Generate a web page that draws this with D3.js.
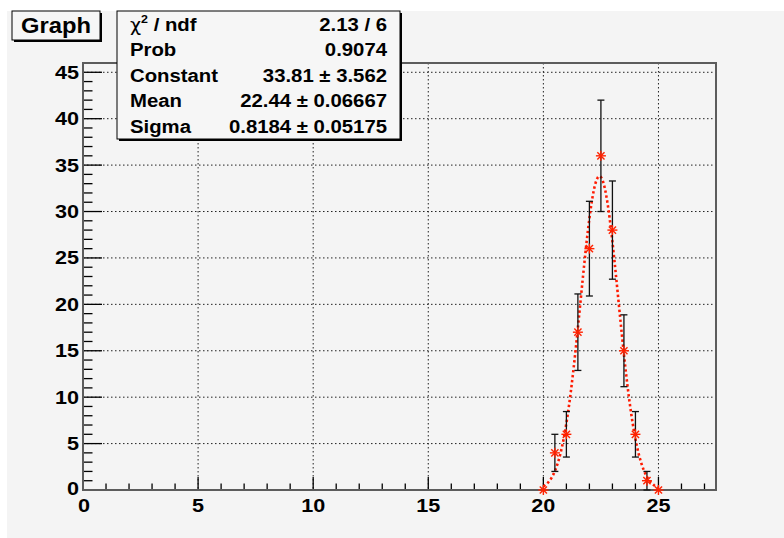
<!DOCTYPE html>
<html><head><meta charset="utf-8">
<script src="https://cdn.jsdelivr.net/npm/d3@7"></script>
<style>
html,body{margin:0;padding:0;background:#fff;}
svg{display:block;}
text{font-family:"Liberation Sans",Arial,Helvetica,sans-serif;font-weight:bold;fill:#000;}
</style></head>
<body>
<script>
// ---- data ----
const xValues = [20, 20.5, 21, 21.5, 22, 22.5, 23, 23.5, 24, 24.5, 25];
const yValues = [0, 4, 6, 17, 26, 36, 28, 15, 6, 1, 0];
const yErrors = [0, 2, 2.45, 4.12, 5.1, 6, 5.29, 3.87, 2.45, 1, 0];
const xTicks = [0, 5, 10, 15, 20, 25];
const yTicks = [0, 5, 10, 15, 20, 25, 30, 35, 40, 45];
const fitParams = {constant: 33.81, mean: 22.44, sigma: 0.8184, xmin: 20, xmax: 25};
const statsLabels = ["Prob", "Constant", "Mean", "Sigma"];
const statsValues = ["0.9074", "33.81 \u00b1 3.562", "22.44 \u00b1 0.06667", "0.8184 \u00b1 0.05175"];
const chiValue = "2.13 / 6";
const title = "Graph";

const W = 784, H = 538;
const svg = d3.select("body").append("svg").attr("width", W).attr("height", H);

// canvas background
svg.append("rect").attr("x", 0).attr("y", 0).attr("width", W).attr("height", H).attr("fill", "#ffffff");
svg.append("rect").attr("x", 7).attr("y", 11).attr("width", W - 7).attr("height", H - 11).attr("fill", "#f4f4f4");

const fx0 = 83, fx1 = 716, fy0 = 63, fy1 = 490;
const x = d3.scaleLinear().domain([0, 27.5]).range([fx0, fx1]);
const y = d3.scaleLinear().domain([0, 46]).range([fy1, fy0]);

// stretched text helper
function stext(parent, tx, ty, str, size, anchor, sx) {
  return parent.append("text")
    .attr("transform", `translate(${tx},${ty}) scale(${sx},1)`)
    .attr("text-anchor", anchor).attr("font-size", size).text(str);
}

// grid
const grid = svg.append("g");
grid.selectAll("line.gx").data(xTicks.filter(d => d > 0)).enter().append("line")
  .attr("x1", d => x(d)).attr("x2", d => x(d)).attr("y1", fy0).attr("y2", fy1)
  .attr("stroke", "#222").attr("stroke-width", 1).attr("stroke-dasharray", "1.5,2.5");
grid.selectAll("line.gy").data(yTicks.filter(d => d > 0)).enter().append("line")
  .attr("y1", d => y(d)).attr("y2", d => y(d)).attr("x1", fx0).attr("x2", fx1)
  .attr("stroke", "#222").attr("stroke-width", 1).attr("stroke-dasharray", "1.5,2.5");

// axes with inner ticks
const xMinor = d3.range(0, 27.5 + 1e-9, 1);
const yMinor = d3.range(0, 46 + 1e-9, 1);
const ax = svg.append("g");
ax.selectAll("line.xm").data(xMinor).enter().append("line")
  .attr("x1", d => x(d)).attr("x2", d => x(d))
  .attr("y1", fy1).attr("y2", d => fy1 - (d % 5 === 0 ? 13 : 6.5))
  .attr("stroke", "#000").attr("stroke-width", 1.3);
ax.selectAll("line.ym").data(yMinor).enter().append("line")
  .attr("y1", d => y(d)).attr("y2", d => y(d))
  .attr("x1", fx0).attr("x2", d => fx0 + (d % 5 === 0 ? 19 : 9.5))
  .attr("stroke", "#000").attr("stroke-width", 1.3);

// frame
svg.append("rect").attr("x", fx0).attr("y", fy0).attr("width", fx1 - fx0).attr("height", fy1 - fy0)
  .attr("fill", "none").attr("stroke", "#5c5c5c").attr("stroke-width", 2);

// tick labels
xTicks.forEach(d => stext(ax, x(d) + (d === 0 ? 1 : 0), 512, String(d), 18, "middle", 1.2));
yTicks.forEach(d => stext(ax, 79, y(d) + 6.5 - (d === 0 ? 2 : 0), String(d), 18, "end", 1.2));

// fit curve
const g = d => fitParams.constant * Math.exp(-0.5 * Math.pow((d - fitParams.mean) / fitParams.sigma, 2));
const fitX = d3.range(fitParams.xmin, fitParams.xmax + 1e-9, 0.025);
svg.append("path").datum(fitX)
  .attr("d", d3.line().x(d => x(d)).y(d => y(g(d))))
  .attr("fill", "none").attr("stroke", "#ff1a00").attr("stroke-width", 2.6)
  .attr("stroke-dasharray", "2.4,2.6");

// error bars
const pts = xValues.map((d, i) => ({x: d, y: yValues[i], e: yErrors[i]}));
const eb = svg.append("g").attr("stroke", "#111").attr("stroke-width", 1.3);
pts.filter(p => p.e > 0).forEach(p => {
  eb.append("line").attr("x1", x(p.x)).attr("x2", x(p.x)).attr("y1", y(p.y - p.e)).attr("y2", y(p.y + p.e));
  [p.y - p.e, p.y + p.e].forEach(v => {
    eb.append("line").attr("x1", x(p.x) - 3.5).attr("x2", x(p.x) + 3.5).attr("y1", y(v)).attr("y2", y(v));
  });
});

// markers (asterisks)
const mk = svg.append("g").attr("stroke", "#ff2200").attr("stroke-width", 1.4);
const r = 5;
pts.forEach(p => {
  const cx = x(p.x), cy = y(p.y);
  mk.append("line").attr("x1", cx - r).attr("x2", cx + r).attr("y1", cy).attr("y2", cy);
  mk.append("line").attr("x1", cx).attr("x2", cx).attr("y1", cy - r).attr("y2", cy + r);
  mk.append("line").attr("x1", cx - r * 0.72).attr("x2", cx + r * 0.72).attr("y1", cy - r * 0.72).attr("y2", cy + r * 0.72);
  mk.append("line").attr("x1", cx - r * 0.72).attr("x2", cx + r * 0.72).attr("y1", cy + r * 0.72).attr("y2", cy - r * 0.72);
});

// boxes helper with shadow
function box(x0, y0, w, h) {
  svg.append("rect").attr("x", x0 + 2).attr("y", y0 + 2).attr("width", w).attr("height", h).attr("fill", "#000");
  svg.append("rect").attr("x", x0).attr("y", y0).attr("width", w).attr("height", h)
    .attr("fill", "#f6f6f6").attr("stroke", "#000").attr("stroke-width", 1);
}

// title box
box(12, 11, 88, 29);
stext(svg, 56, 33, title, 22, "middle", 1.08);

// stats box
box(117, 11, 283, 128);
const rowY = [25, 50, 76, 101, 127];
const chi = svg.append("text").attr("transform", `translate(130,${rowY[0] + 6}) scale(1.13,1)`).attr("font-size", 18);
chi.append("tspan").attr("font-weight", "normal").attr("font-family", "DejaVu Sans").attr("font-size", 17).text("\u03c7");
chi.append("tspan").attr("dy", -8).attr("font-size", 11).text("2");
chi.append("tspan").attr("dy", 8).text(" / ndf");
stext(svg, 387, rowY[0] + 6, chiValue, 18, "end", 1.13);
statsLabels.forEach((l, i) => {
  stext(svg, 130, rowY[i + 1] + 6, l, 18, "start", 1.13);
  stext(svg, 387, rowY[i + 1] + 6, statsValues[i], 18, "end", 1.13);
});
</script>
</body></html>
